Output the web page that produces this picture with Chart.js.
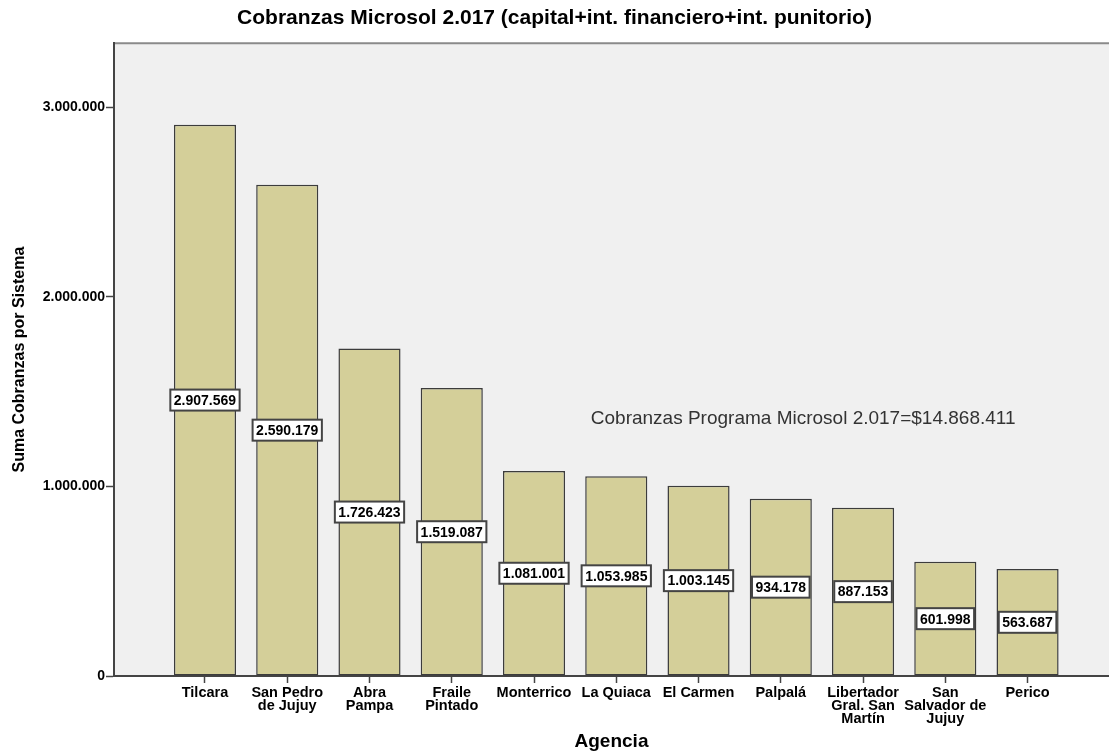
<!DOCTYPE html>
<html>
<head>
<meta charset="utf-8">
<script src="https://cdn.jsdelivr.net/npm/chart.js@4"></script>
<style>
  html, body { margin: 0; padding: 0; background: #fff; }
  #wrap { width: 1109px; height: 753px; }
</style>
</head>
<body>
<div id="wrap"><canvas id="myBarChart"></canvas></div>
<script>
let agencias = [
  'Tilcara', ['San Pedro', 'de Jujuy'], ['Abra', 'Pampa'], ['Fraile', 'Pintado'],
  'Monterrico', 'La Quiaca', 'El Carmen', 'Palpalá',
  ['Libertador', 'Gral. San', 'Martín'], ['San', 'Salvador de', 'Jujuy'], 'Perico'
];
let cobranzas = [2907569, 2590179, 1726423, 1519087, 1081001, 1053985, 1003145, 934178, 887153, 601998, 563687];
let yTicks = [0, 1000000, 2000000, 3000000];
let totalText = 'Cobranzas Programa Microsol 2.017=$14.868.411';

const FONT = '"Liberation Sans", Arial, sans-serif';

function fmt(v) {
  return String(Math.round(v)).replace(/\B(?=(\d{3})+(?!\d))/g, '.');
}

// fondo del area y borde superior
const plotFrame = {
  id: 'plotFrame',
  beforeDraw(chart) {
    const { ctx, chartArea: a } = chart;
    ctx.save();
    ctx.fillStyle = '#f0f0f0';
    ctx.fillRect(a.left, a.top, a.right - a.left, a.bottom - a.top);
    ctx.strokeStyle = '#8a8a8a';
    ctx.lineWidth = 2;
    ctx.beginPath();
    ctx.moveTo(a.left, a.top);
    ctx.lineTo(a.right, a.top);
    ctx.stroke();
    ctx.restore();
  }
};

// etiquetas de valor en el medio de cada barra + texto del total
const valueBoxes = {
  id: 'valueBoxes',
  afterDatasetsDraw(chart) {
    const ctx = chart.ctx;
    const meta = chart.getDatasetMeta(0);
    ctx.save();
    ctx.font = 'bold 14px ' + FONT;
    ctx.textAlign = 'center';
    ctx.textBaseline = 'middle';
    meta.data.forEach((bar, i) => {
      const txt = fmt(cobranzas[i]);
      const w = ctx.measureText(txt).width + 7;
      const h = 21;
      const cy = (bar.y + bar.base) / 2;
      ctx.fillStyle = '#ffffff';
      ctx.fillRect(bar.x - w / 2, cy - h / 2, w, h);
      ctx.strokeStyle = '#444';
      ctx.lineWidth = 2;
      ctx.strokeRect(bar.x - w / 2, cy - h / 2, w, h);
      ctx.fillStyle = '#000';
      ctx.fillText(txt, bar.x, cy + 1);
    });
    const xs = chart.scales.x, ys = chart.scales.y;
    ctx.font = '19px ' + FONT;
    ctx.textAlign = 'left';
    ctx.fillStyle = '#333';
    ctx.fillText(totalText, xs.getPixelForValue(4.69), ys.getPixelForValue(1358000));
    ctx.restore();
  }
};

document.addEventListener('DOMContentLoaded', function() {
  var ctx = document.getElementById('myBarChart').getContext('2d');

  var data = {
    datasets: [{
      label: 'Suma Cobranzas por Sistema',
      data: cobranzas.map((v, i) => ({ x: i, y: v })),
      backgroundColor: '#d4cf99',
      borderColor: '#3c3c3c',
      borderWidth: 1.5,
      borderSkipped: false,
      barPercentage: 1,
      categoryPercentage: 0.755
    }]
  };

  var options = {
    responsive: true,
    maintainAspectRatio: false,
    animation: false,
    layout: { padding: 0 },
    plugins: {
      legend: { display: false },
      tooltip: { enabled: false },
      title: {
        display: true,
        text: 'Cobranzas Microsol 2.017 (capital+int. financiero+int. punitorio)',
        color: '#000',
        font: { family: FONT, size: 21, weight: 'bold' },
        padding: { top: 6, bottom: 12 }
      }
    },
    scales: {
      x: {
        type: 'linear',
        offset: false,
        min: -1.106,
        max: 10.99,
        afterBuildTicks: s => { s.ticks = agencias.map((c, i) => ({ value: i })); },
        afterFit: s => { s.height = 77; },
        ticks: {
          autoSkip: false,
          maxRotation: 0,
          color: '#000',
          padding: 4,
          font: { family: FONT, size: 14.5, weight: 'bold', lineHeight: 0.88 },
          callback: v => agencias[v]
        },
        grid: { offset: false, drawOnChartArea: false, tickLength: 7, color: '#444', tickWidth: 1.5 },
        border: { color: '#444', width: 2 },
        title: {
          display: true,
          text: 'Agencia',
          color: '#000',
          font: { family: FONT, size: 19, weight: 'bold' },
          padding: { top: 0, bottom: 0 }
        }
      },
      y: {
        min: 0,
        max: 3337000,
        afterBuildTicks: s => { s.ticks = yTicks.map(v => ({ value: v })); },
        afterFit: s => { s.width = 114; },
        ticks: {
          color: '#000',
          padding: 1,
          font: { family: FONT, size: 14, weight: 'bold' },
          callback: v => fmt(v)
        },
        grid: { drawOnChartArea: false, tickLength: 8, color: '#444', tickWidth: 1.5 },
        border: { color: '#444', width: 2 },
        title: {
          display: true,
          text: 'Suma Cobranzas por Sistema',
          color: '#000',
          font: { family: FONT, size: 16, weight: 'bold' },
          padding: { top: 10, bottom: 10 }
        }
      }
    }
  };

  new Chart(ctx, {
    type: 'bar',
    data: data,
    options: options,
    plugins: [plotFrame, valueBoxes]
  });
});
</script>
</body>
</html>
